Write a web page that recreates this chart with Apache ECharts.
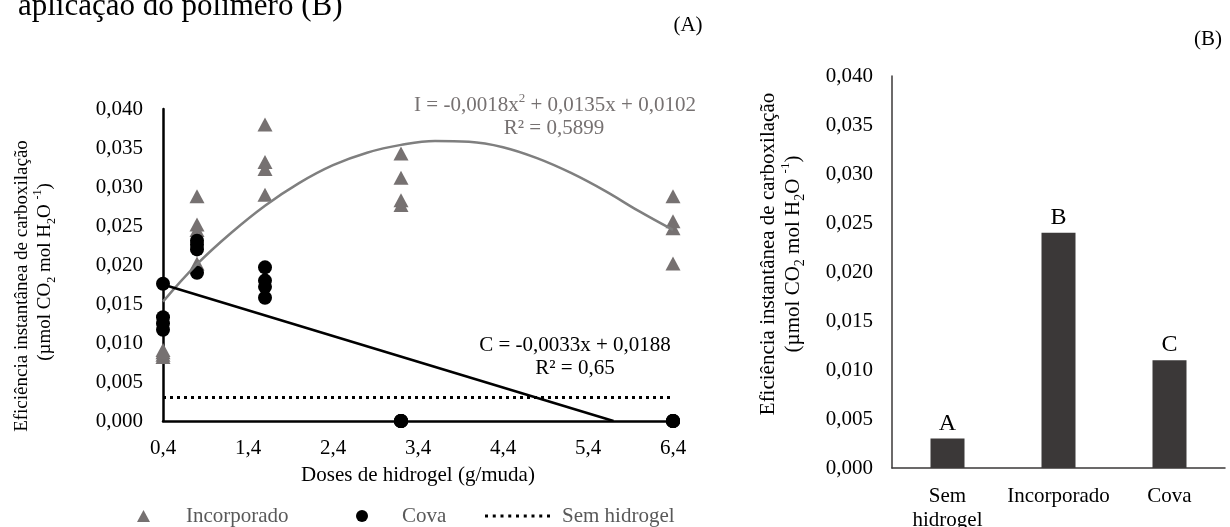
<!DOCTYPE html>
<html>
<head>
<meta charset="utf-8">
<script src="https://cdn.jsdelivr.net/npm/echarts@6/dist/echarts.min.js"></script>
<style>
html,body{margin:0;padding:0;background:#fff;}
#chart{width:1230px;height:527px;}
</style>
</head>
<body>
<div id="chart"></div>
<script>
// ---------- DATA ----------
const doses = [0.4, 0.8, 1.6, 3.2, 6.4];
const incorporado = [
  [0.0082, 0.0085, 0.0088, 0.0091],
  [0.0288, 0.0252, 0.0245, 0.0202],
  [0.0380, 0.0332, 0.0323, 0.0290],
  [0.0343, 0.0312, 0.0283, 0.0277],
  [0.0288, 0.0256, 0.0247, 0.0202]
];
const cova = [
  [0.0176, 0.0133, 0.0125, 0.0117],
  [0.0231, 0.0226, 0.0220, 0.0190],
  [0.0197, 0.0180, 0.0172, 0.0158],
  [0, 0, 0, 0],
  [0, 0, 0, 0]
];
const semHidrogelX = [0.4, 6.4];
const semHidrogelY = [0.003, 0.003];
const trendIX = [0.4, 0.8, 1.2, 1.6, 2.0, 2.4, 2.8, 3.2, 3.6, 4.0, 4.4, 4.8, 5.2, 5.6, 6.0, 6.4];
const trendIY = [0.0153, 0.0201, 0.0241, 0.0276, 0.0305, 0.0328, 0.0344, 0.0354, 0.0359, 0.0358, 0.0351, 0.0337, 0.0318, 0.0295, 0.0269, 0.0245];
const trendCX = [0.4, 5.7];
const trendCY = [0.0175, 0];
const xTickLabels = [0.4, 1.4, 2.4, 3.4, 4.4, 5.4, 6.4];
const barCategories = ['Sem\nhidrogel', 'Incorporado', 'Cova'];
const barValues = [0.003, 0.024, 0.011];
const barLetters = ['A', 'B', 'C'];

// ---------- BUILD ----------
const FF = "'Liberation Serif','Times New Roman',serif";
const GREY = '#767171';
const fmtComma = (v, d) => Number(v).toFixed(d).replace('.', ',');
function pairs(xs, ys) { return xs.map((x, i) => [x, ys[i]]); }
function groupPairs(groups) {
  const out = [];
  groups.forEach((g, i) => g.forEach(v => out.push([doses[i], v])));
  return out;
}
// dotted legend icon: 9 small squares in a row
let dotPath = 'path://';
for (let i = 0; i < 9; i++) {
  const x0 = i * 7.75;
  dotPath += 'M' + x0 + ',0h3v3h-3z';
}

const chart = echarts.init(document.getElementById('chart'), null, {renderer: 'canvas'});

function richFor(size, color) {
  return {
    sub: {fontSize: Math.round(size * 0.65), fontFamily: FF, verticalAlign: 'bottom', lineHeight: Math.round(size * 0.65), fill: color},
    sup: {fontSize: Math.round(size * 0.62), fontFamily: FF, verticalAlign: 'top', lineHeight: Math.round(size * 0.62), fill: color}
  };
}
function gText(x, y, text, size, color, opts) {
  opts = opts || {};
  return {
    type: 'text', x: x, y: y, rotation: opts.rotation || 0, z: 100,
    style: {
      text: text, fill: color, fontSize: size, fontFamily: FF,
      align: opts.align || 'center', verticalAlign: opts.verticalAlign || 'middle',
      lineHeight: opts.lineHeight || Math.round(size * 1.25),
      rich: richFor(size, color)
    }
  };
}

const option = {
  backgroundColor: '#ffffff',
  animation: false,
  grid: [
    {left: 163, top: 109, width: 510, height: 312, outerBoundsMode: 'none', containLabel: false},
    {left: 892, top: 76, width: 333, height: 392, outerBoundsMode: 'none', containLabel: false}
  ],
  xAxis: [
    {
      type: 'value', gridIndex: 0, min: 0.4, max: 6.4,
      axisLine: {show: true, onZero: false, lineStyle: {color: '#000', width: 2.5}},
      axisTick: {show: false},
      splitLine: {show: false},
      axisLabel: {customValues: xTickLabels, formatter: v => fmtComma(v, 1), fontSize: 21, fontFamily: FF, color: '#000', margin: 17},
      name: 'Doses de hidrogel (g/muda)', nameLocation: 'middle', nameGap: 44,
      nameTextStyle: {fontSize: 21, fontFamily: FF, color: '#000'}
    },
    {
      type: 'category', gridIndex: 1, data: barCategories,
      axisLine: {show: true, lineStyle: {color: '#3b3838', width: 1.5}},
      axisTick: {show: false},
      axisLabel: {fontSize: 21, fontFamily: FF, color: '#000', margin: 16, lineHeight: 24, interval: 0}
    }
  ],
  yAxis: [
    {
      type: 'value', gridIndex: 0, min: 0, max: 0.04, interval: 0.005,
      axisLine: {show: true, lineStyle: {color: '#000', width: 2.5}},
      axisTick: {show: false},
      splitLine: {show: false},
      axisLabel: {formatter: v => fmtComma(v, 3), fontSize: 21, fontFamily: FF, color: '#000', margin: 20}
    },
    {
      type: 'value', gridIndex: 1, min: 0, max: 0.04, interval: 0.005,
      axisLine: {show: true, lineStyle: {color: '#3b3838', width: 1.5}},
      axisTick: {show: false},
      splitLine: {show: false},
      axisLabel: {formatter: v => fmtComma(v, 3), fontSize: 21, fontFamily: FF, color: '#000', margin: 19}
    }
  ],
  legend: [
    {
      left: 137, top: 505, padding: 0, itemWidth: 13, itemHeight: 12,
      data: [{name: 'Incorporado', icon: 'triangle'}],
      textStyle: {fontSize: 21, fontFamily: FF, color: '#595959', padding: [0, 0, 0, 31], lineHeight: 22}
    },
    {
      left: 356, top: 505, padding: 0, itemWidth: 12, itemHeight: 12,
      data: [{name: 'Cova', icon: 'circle'}],
      textStyle: {fontSize: 21, fontFamily: FF, color: '#595959', padding: [0, 0, 0, 29], lineHeight: 22}
    },
    {
      left: 485, top: 505, padding: 0, itemWidth: 65, itemHeight: 3,
      data: [{name: 'Sem hidrogel', icon: dotPath, itemStyle: {color: '#000'}}],
      textStyle: {fontSize: 21, fontFamily: FF, color: '#595959', padding: [0, 0, 0, 7], lineHeight: 22}
    }
  ],
  series: [
    {
      name: 'Incorporado', type: 'scatter', xAxisIndex: 0, yAxisIndex: 0,
      symbol: 'triangle', symbolSize: [15, 14],
      itemStyle: {color: GREY, opacity: 1},
      data: groupPairs(incorporado), z: 3
    },
    {
      name: 'Cova', type: 'scatter', xAxisIndex: 0, yAxisIndex: 0,
      symbol: 'circle', symbolSize: 14,
      itemStyle: {color: '#000', opacity: 1},
      data: groupPairs(cova), z: 4
    },
    {
      name: 'Sem hidrogel', type: 'line', xAxisIndex: 0, yAxisIndex: 0,
      symbol: 'none', showSymbol: false,
      lineStyle: {color: '#000', width: 3, type: [3, 4]},
      itemStyle: {color: '#000'},
      data: pairs(semHidrogelX, semHidrogelY), z: 5
    },
    {
      name: 'trendI', type: 'line', xAxisIndex: 0, yAxisIndex: 0,
      symbol: 'none', showSymbol: false, smooth: 0.4,
      lineStyle: {color: '#7f7f7f', width: 2.5},
      data: pairs(trendIX, trendIY), z: 6
    },
    {
      name: 'trendC', type: 'line', xAxisIndex: 0, yAxisIndex: 0,
      symbol: 'none', showSymbol: false,
      lineStyle: {color: '#000', width: 2.5},
      data: pairs(trendCX, trendCY), z: 6
    },
    {
      name: 'bars', type: 'bar', xAxisIndex: 1, yAxisIndex: 1,
      barWidth: 34,
      itemStyle: {color: '#3b3838'},
      label: {show: true, position: 'top', distance: 3, formatter: p => barLetters[p.dataIndex], fontSize: 24, fontFamily: FF, color: '#000'},
      data: barValues
    }
  ],
  graphic: [
    gText(18, 7, 'aplicação do polímero (B)', 31, '#000', {align: 'left', verticalAlign: 'middle', lineHeight: 31}),
    gText(688, 25, '(A)', 21, '#000'),
    gText(1208, 39, '(B)', 21, '#000'),
    gText(22, 286, 'Eficiência instantânea de carboxilação', 19, '#000', {rotation: Math.PI / 2}),
    gText(45, 272, '(µmol CO{sub|2} mol H{sub|2}O {sup|-1})', 19, '#000', {rotation: Math.PI / 2, lineHeight: 26}),
    gText(768, 254, 'Eficiência instantânea de carboxilação', 21, '#000', {rotation: Math.PI / 2}),
    gText(793, 254, '(µmol CO{sub|2} mol H{sub|2}O {sup|-1})', 21, '#000', {rotation: Math.PI / 2, lineHeight: 28}),
    gText(555, 105, 'I = -0,0018x{sup|2} + 0,0135x + 0,0102', 21, '#767171', {lineHeight: 26}),
    gText(554, 128, 'R² = 0,5899', 21, '#767171'),
    gText(575, 345, 'C = -0,0033x + 0,0188', 21, '#000'),
    gText(575, 368, 'R² = 0,65', 21, '#000')
  ]
};
chart.setOption(option);
</script>
</body>
</html>
